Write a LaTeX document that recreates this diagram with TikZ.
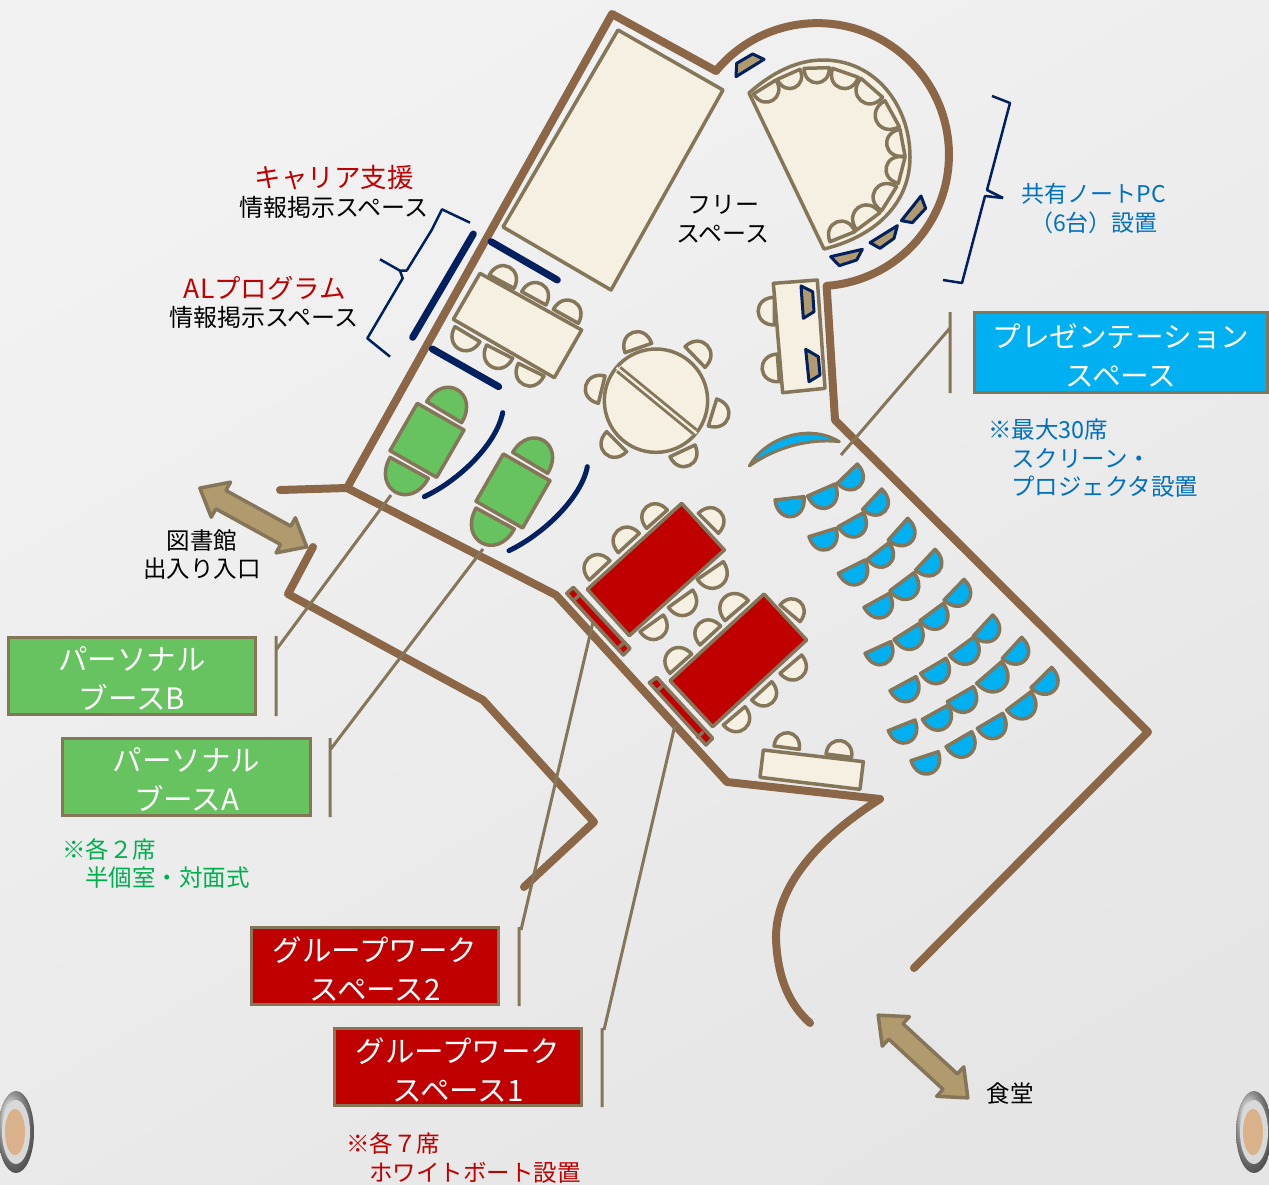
\documentclass[tikz,border=0pt]{standalone}
\usepackage{fontspec}
\setmainfont{Noto Sans CJK JP}
\usetikzlibrary{calc}
\definecolor{wallbrown}{HTML}{8B6748}
\definecolor{linetan}{HTML}{85765A}
\definecolor{cream}{HTML}{F5F0E1}
\definecolor{navy}{HTML}{002060}
\definecolor{pctan}{HTML}{B09A6E}
\definecolor{seatblue}{HTML}{00B0F0}
\definecolor{boothgreen}{HTML}{66C35F}
\definecolor{tablered}{HTML}{C00000}
\definecolor{textblue}{HTML}{0070C0}
\definecolor{textgreen}{HTML}{00B050}
\tikzset{
  wall/.style={draw=wallbrown,line width=8pt,line join=round,line cap=round},
  seatline/.style={draw=linetan,line width=3.5pt,line join=round},
  leader/.style={draw=linetan,line width=3pt},
  navybar/.style={draw=navy,line width=7pt,line cap=round},
  navythin/.style={draw=navy,line width=2.5pt,line join=round},
  pcbox/.style={draw=navy,fill=pctan,line width=3pt,line join=round},
  labelbox/.style={draw=linetan,line width=3pt,text=white,inner sep=0pt,align=center,
    font=\fontsize{29.5}{39}\selectfont},
  note/.style={inner sep=0pt,align=center,font=\fontsize{24}{29}\selectfont},
  noteleft/.style={inner sep=0pt,align=left,anchor=west,font=\fontsize{23.5}{28.5}\selectfont},
}
\newcommand{\chairk}{0.78}
\newcommand{\chairab}[3][cream]{\draw[seatline,fill=#1] (#2) .. controls ($(#2)!\chairk!90:(#3)$) and ($(#3)!\chairk!-90:(#2)$) .. (#3) -- cycle;}
\newcommand{\bigarrow}[4]{\draw[draw=linetan,fill=pctan,line width=3.5pt,line join=round,shift={(#1,#2)},rotate=#3]
  (-#4,0) -- (-#4+24,-20) -- (-#4+24,-10.5) -- (#4-24,-10.5) -- (#4-24,-20) -- (#4,0) -- (#4-24,20) -- (#4-24,10.5) -- (-#4+24,10.5) -- (-#4+24,20) -- cycle;}
\newcommand{\rivet}[2]{%
  \shade[ball color=gray!45,shift={(#1,#2)}] (0,0) ellipse (18 and 41);
  \fill[white!70!gray,shift={(#1,#2)}] (0,0) ellipse (14 and 32);
  \fill[brown!60!white,shift={(#1,#2)}] (-1,0) ellipse (10 and 23);}
\begin{document}
\begin{tikzpicture}[x=1pt,y=-1pt]
  \useasboundingbox (0,0) rectangle (1269,1184);
  \shade[top color=white!95!black,bottom color=white!90!black,shading angle=30] (0,0) rectangle (1269,1184);
  \rivet{16}{1132}
  \rivet{1254}{1132}

  \draw[wall] (280,490) -- (347,488) -- (612,14) -- (716,71) arc[start angle=219.5,end angle=446,radius=131.5] -- (835,420) -- (1148,732) -- (914,968);
  \draw[wall] (347,488) -- (556,595) -- (727,782) -- (880,799) .. controls (800,850) and (775,900) .. (776,940) .. controls (778,980) and (790,1005) .. (810,1023);
  \draw[wall] (313,547) -- (288,594) -- (483,700) -- (594,822) -- (524,887);

  \bigarrow{253.3}{517.5}{-28.8}{61}
  \bigarrow{923}{1056.5}{-42.7}{61}

  \draw[seatline,fill=cream] (618,30) -- (723,90) -- (611,290) -- (503,227) -- cycle;
  \draw[seatline,fill=cream] (749,93) .. controls (775,70) and (800,60) .. (823,60) .. controls (875,60) and (910,105) .. (910,157) .. controls (910,200) and (880,235) .. (824,249) -- cycle;
  \begin{scope}[shift={(700,20)},scale=1/3]
    \foreach \ax/\ay/\bx/\by in {228/180/160/222,300/148/232/178,388/143/312/145,475/172/398/145,548/232/483/175,598/320/555/242,615/408/600/328,595/490/615/412,545/572/590/500,470/630/540/578,390/665/465/635}
      {\chairab{\ax,\ay}{\bx,\by}}
    \draw[pcbox] (108,170) -- (110,130) -- (158,102) -- (192,118) -- cycle;
    \draw[pcbox] (392,710) -- (487,688) -- (470,720) -- (418,737) -- cycle;
    \draw[pcbox] (510,668) -- (592,617) -- (582,655) -- (540,685) -- cycle;
    \draw[pcbox] (604,602) -- (663,528) -- (677,565) -- (637,608) -- cycle;
  \end{scope}

  \begin{scope}[shift={(360,230)},scale=1/3]
    \draw[navybar] (158,322) -- (340,12);
    \draw[navybar] (393,35) -- (592,150);
    \draw[navybar] (217,357) -- (416,470);
    \draw[seatline,fill=cream] (360,130) -- (665,300) -- (583,443) -- (280,268) -- cycle;
    \foreach \ax/\ay/\bx/\by in {388/135/462/175,485/185/558/225,580/238/655/280,360/335/285/290,458/385/380/345,552/438/475/400}
      {\chairab{\ax,\ay}{\bx,\by}}
    \draw[seatline,fill=cream] (888,512) circle (155);
    \draw[draw=linetan,line width=8pt] (776,418) -- (1004,605);
    \draw[draw=cream,line width=2.2pt] (770,413) -- (1010,610);
    \foreach \ax/\ay/\bx/\by in {795/368/875/340,975/350/1035/412,1070/507/1045/588,1005/645/930/680,800/665/740/605,715/520/735/438}
      {\chairab{\ax,\ay}{\bx,\by}}
    \renewcommand{\chairk}{0.85}
    \foreach \dx/\dy in {0/0,258/152}{
      \begin{scope}[shift={(\dx,\dy)}]
        \draw[seatline,fill=boothgreen] (172,520) -- (312,600) -- (230,742) -- (90,662) -- cycle;
        \chairab[boothgreen]{200,515}{305,578}
        \chairab[boothgreen]{205,745}{90,682}
      \end{scope}}
    \draw[navybar,line width=5pt] (193,800) .. controls (300,750) and (410,640) .. (428,548);
    \draw[navybar,line width=5pt] (447,962) .. controls (555,910) and (665,800) .. (682,710);
    \draw[navythin] (60,88) -- (120,122) -- (140,122) -- (215,0) -- (246,-62) -- (330,-22);
    \draw[navythin] (120,122) -- (128,145) -- (22,325) -- (90,380);
  \end{scope}

  \begin{scope}[shift={(740,270)},scale=1/3]
    \draw[seatline,fill=cream] (100,40) -- (232,30) -- (255,355) -- (128,368) -- cycle;
    \chairab{103,165}{103,82}
    \chairab{118,335}{112,252}
    \draw[pcbox] (183,48) -- (218,65) -- (222,125) -- (190,145) -- cycle;
    \draw[pcbox] (197,238) -- (235,260) -- (240,315) -- (207,335) -- cycle;
    \draw[draw=linetan,line width=3pt,line join=round,fill=seatblue] (28,588) .. controls (70,510) and (200,455) .. (298,515) .. controls (210,505) and (110,530) .. (28,588) -- cycle;
    \renewcommand{\chairk}{0.84}
    \foreach \ax/\ay/\bx/\by in {105/690/192/680,203/678/285/642,292/640/352/582,
      207/800/288/775,295/770/370/728,368/718/425/657,
      295/910/375/870,382/868/447/818,445/810/503/745,
      372/1012/448/970,450/962/522/908,527/900/585/838,
      375/1150/452/1115,462/1108/538/1060,540/1052/610/1000,612/990/672/928,
      450/1262/528/1220,542/1210/618/1165,628/1155/703/1100,700/1098/758/1035,
      445/1382/525/1350,547/1348/625/1305,622/1295/700/1250,710/1240/785/1175,787/1165/845/1102,
      513/1472/595/1445,618/1430/695/1385,712/1375/788/1330,800/1320/873/1265,873/1253/935/1192}
      {\chairab[seatblue]{\bx,\by}{\ax,\ay}}
  \end{scope}

  \begin{scope}[shift={(550,490)},scale=1/3]
    \draw[seatline,fill=tablered] (395,40) -- (523,180) -- (238,437) -- (112,298) -- cycle;
    \draw[seatline,fill=tablered] (642,312) -- (770,450) -- (488,710) -- (360,572) -- cycle;
    \foreach \ax/\ay/\bx/\by in {118/270/180/212,205/188/268/130,290/115/352/60,445/70/505/130,520/215/442/268,428/300/355/352,340/375/270/425,
      360/550/425/492,450/465/512/408,525/392/595/332,690/345/750/395,755/495/690/550,665/575/605/630,585/650/520/705,
      672/768/748/778,828/792/905/802}
      {\chairab{\ax,\ay}{\bx,\by}}
    \draw[seatline,fill=cream] (640,780) -- (940,815) -- (930,898) -- (630,862) -- cycle;
    \draw[seatline,fill=tablered] (70,292) -- (240,475) -- (220,495) -- (50,310) -- cycle;
    \draw[seatline] (92,312) -- (70,332) (222,458) -- (200,478);
    \draw[seatline,fill=tablered] (320,562) -- (488,745) -- (468,765) -- (298,578) -- cycle;
    \draw[seatline] (340,585) -- (320,603) (460,725) -- (440,745);
  \end{scope}

  \draw[navythin] (992,96) -- (1010,103) -- (987,190) -- (1003,198);
  \draw[navythin] (1003,198) -- (985,196) -- (962,283) -- (943,280);

  \draw[leader] (950,312) -- (950,393) (950,328) -- (841,455);
  \draw[leader] (276,636) -- (276,716) (276,650) -- (391,495);
  \draw[leader] (330,738) -- (330,817) (330,750) -- (483,549);
  \draw[leader] (519,927) -- (519,1006) (521,930) -- (593,622);
  \draw[leader] (602,1028) -- (602,1107) (604,1030) -- (675,725);

  \node[labelbox,fill=seatblue,minimum width=293pt,minimum height=80pt,font=\fontsize{28.6}{39}\selectfont] (presentation) at (1121,352.5) {\rule{0pt}{30pt}プレゼンテーション\\スペース};
  \node[labelbox,fill=boothgreen,minimum width=247pt,minimum height=77pt] (boothb) at (132,676) {\rule{0pt}{30pt}パーソナル\\ブースB};
  \node[labelbox,fill=boothgreen,minimum width=248pt,minimum height=77pt] (bootha) at (186.5,777) {\rule{0pt}{30pt}パーソナル\\ブースA};
  \node[labelbox,fill=tablered,minimum width=247pt,minimum height=77pt] (groupb) at (375,966) {\rule{0pt}{30pt}グループワーク\\スペース2};
  \node[labelbox,fill=tablered,minimum width=247pt,minimum height=77pt] (groupa) at (458,1067) {\rule{0pt}{30pt}グループワーク\\スペース1};

  \node[note,text=tablered,font=\fontsize{26.5}{30}\selectfont] (careertop) at (334,177.5) {キャリア支援};
  \node[note] (careerinfo) at (334,207) {情報掲示スペース};
  \node[note,text=tablered,font=\fontsize{26.5}{30}\selectfont] (altop) at (265,288) {ALプログラム};
  \node[note] (alinfo) at (264,317) {情報掲示スペース};
  \node[note] (freespace) at (723,219) {フリー\\スペース};
  \node[note,text=textblue,font=\fontsize{23}{29}\selectfont] (sharedpc) at (1094,208.5) {共有ノートPC\\（6台）設置};
  \node[note,font=\fontsize{23.5}{28}\selectfont] (library) at (202,555) {図書館\\出入り入口};
  \node[note,font=\fontsize{23.5}{28}\selectfont] (canteen) at (1010,1094) {食堂};
  \node[noteleft,text=textblue] (presnote) at (988,458.5) {※最大30席\\\hspace*{23pt}スクリーン・\\\hspace*{23pt}プロジェクタ設置};
  \node[noteleft,text=textgreen] (boothnote) at (62,863.5) {※各２席\\\hspace*{23pt}半個室・対面式};
  \node[noteleft,text=tablered] (groupnote) at (346,1158) {※各７席\\\hspace*{23pt}ホワイトボート設置};
\end{tikzpicture}
\end{document}
